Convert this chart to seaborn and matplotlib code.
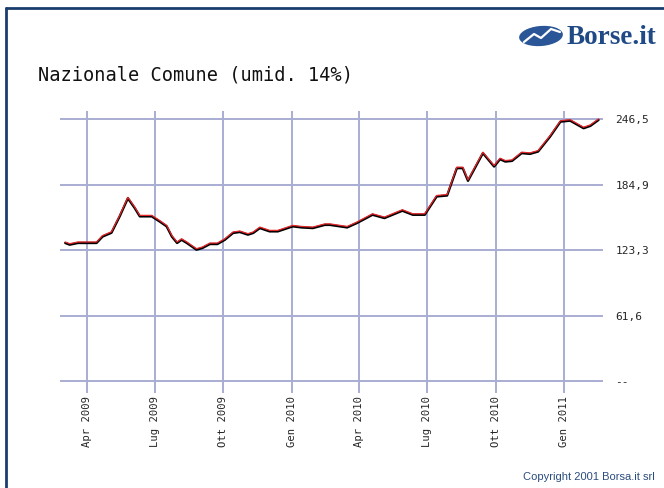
import pandas as pd
import seaborn as sns
import matplotlib.pyplot as plt
import matplotlib.transforms as mtransforms
from matplotlib.patches import Ellipse

# Price series
dates = ["2009-03-03", "2009-03-09", "2009-03-20", "2009-04-14", "2009-04-22",
         "2009-05-04", "2009-05-15", "2009-05-26", "2009-06-04", "2009-06-11",
         "2009-06-27", "2009-07-08", "2009-07-17", "2009-07-24", "2009-07-31",
         "2009-08-06", "2009-08-13", "2009-08-26", "2009-09-03", "2009-09-13",
         "2009-09-23", "2009-10-03", "2009-10-14", "2009-10-23", "2009-11-03",
         "2009-11-10", "2009-11-19", "2009-12-02", "2009-12-13", "2010-01-02",
         "2010-01-14", "2010-01-29", "2010-02-14", "2010-02-21", "2010-03-16",
         "2010-03-29", "2010-04-19", "2010-05-05", "2010-05-29", "2010-06-12",
         "2010-06-28", "2010-07-14", "2010-07-28", "2010-08-10", "2010-08-18",
         "2010-08-25", "2010-09-14", "2010-09-29", "2010-10-07", "2010-10-14",
         "2010-10-23", "2010-11-05", "2010-11-16", "2010-11-27", "2010-12-13",
         "2010-12-27", "2011-01-09", "2011-01-27", "2011-02-05", "2011-02-16"]
prices = [130.0, 128.4, 130.0, 130.0, 136.0,
          139.6, 155.0, 172.0, 163.0, 155.0,
          155.0, 150.0, 145.6, 136.0, 130.0,
          133.0, 130.0, 123.7, 125.3, 129.0,
          129.0, 133.0, 139.4, 140.3, 137.8,
          139.4, 144.0, 140.9, 140.9, 145.6,
          144.6, 144.0, 147.0, 147.0, 144.6,
          148.7, 156.5, 153.4, 160.3, 156.5,
          156.5, 173.7, 174.6, 200.3, 200.3,
          188.4, 214.4, 201.8, 208.7, 206.5,
          207.1, 214.4, 213.7, 215.9, 229.9,
          244.0, 244.9, 237.8, 240.0, 245.6]

tick_dates = ["2009-04-01", "2009-07-01", "2009-10-01", "2010-01-01",
              "2010-04-01", "2010-07-01", "2010-10-01", "2011-01-01"]
tick_labels = ["Apr 2009", "Lug 2009", "Ott 2009", "Gen 2010",
               "Apr 2010", "Lug 2010", "Ott 2010", "Gen 2011"]
y_ticks = [0, 61.6, 123.3, 184.9, 246.5]
y_labels = ["--", "61,6", "123,3", "184,9", "246,5"]

df = pd.DataFrame({"date": pd.to_datetime(dates), "price": prices})

sns.set_theme(style="white")
plt.rcParams["font.family"] = ["DejaVu Sans Mono", "DejaVu Sans"]

grid_col = "#a9add2"
fig = plt.figure(figsize=(6.64, 4.88), dpi=100)
ax = fig.add_axes([60 / 664, 106 / 488, 543 / 664, 271 / 488])

# black shadow line, red line drawn 1px above
sns.lineplot(data=df, x="date", y="price", ax=ax, color="black", linewidth=1.7, zorder=3)
shift = mtransforms.offset_copy(ax.transData, fig=fig, x=0, y=1, units="dots")
sns.lineplot(data=df, x="date", y="price", ax=ax, color="#e3262a", linewidth=0.9,
             zorder=4, transform=shift)

ax.set_xlim(pd.Timestamp("2009-02-24"), pd.Timestamp("2011-02-22"))
ax.set_ylim(-0.6, 254)

ax.set_xticks(pd.to_datetime(tick_dates))
ax.set_xticklabels(tick_labels, rotation=90, fontsize=7.6, family="DejaVu Sans Mono")
ax.set_yticks(y_ticks)
ax.set_yticklabels(y_labels, fontsize=8, family="DejaVu Sans Mono")
ax.yaxis.tick_right()

ax.grid(True, color=grid_col, linewidth=1.4)
ax.tick_params(axis="x", length=8, width=1.4, color=grid_col, pad=2, direction="out", bottom=True)
ax.tick_params(axis="y", length=0, pad=9, right=False)
for s in ax.spines.values():
    s.set_visible(False)
ax.set_xlabel("")
ax.set_ylabel("")
ax.set_axisbelow(True)

# title and branding
fig.text(38 / 664, 1 - 75 / 488, "Nazionale Comune (umid. 14%)", fontsize=13.4,
         family="DejaVu Sans Mono", va="center", ha="left", color="#111111")
fig.text(656 / 664, 1 - 37 / 488, "Borse.it", fontsize=19.5, fontweight="bold",
         family="Liberation Serif", color="#1f4a86", ha="right", va="center")
logo = Ellipse((541 / 664, 1 - 36 / 488), 44 / 664, 20 / 488, angle=8,
               transform=fig.transFigure, facecolor="#2a5597", edgecolor="none")
fig.add_artist(logo)
fig.lines.append(plt.Line2D([524 / 664, 534 / 664, 541 / 664, 551 / 664, 560 / 664],
                            [1 - 42 / 488, 1 - 34 / 488, 1 - 38 / 488, 1 - 29 / 488, 1 - 32 / 488],
                            transform=fig.transFigure, color="white", linewidth=1.6))
fig.text(655 / 664, 1 - 477 / 488, "Copyright 2001 Borsa.it srl", fontsize=8,
         family="Liberation Sans", color="#2b4c7e", ha="right", va="center")

# frame around the picture
border = "#1b3d6e"
fig.lines.append(plt.Line2D([6 / 664, 6 / 664], [0, 1 - 8 / 488], transform=fig.transFigure,
                            color=border, linewidth=2))
fig.lines.append(plt.Line2D([6 / 664, 1], [1 - 8 / 488, 1 - 8 / 488], transform=fig.transFigure,
                            color=border, linewidth=2))

fig.savefig("out.png", dpi=100)
